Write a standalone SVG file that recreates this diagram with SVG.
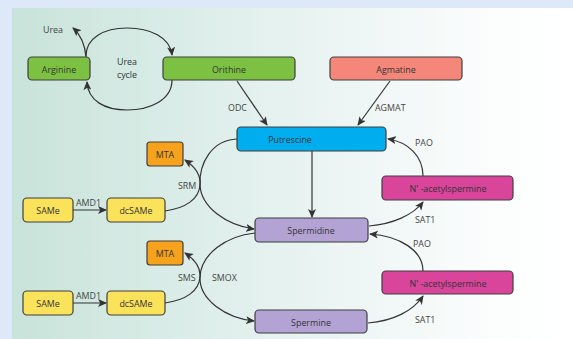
<svg xmlns="http://www.w3.org/2000/svg" width="573" height="339" viewBox="0 0 573 339">
<defs>
<linearGradient id="bg" x1="0" y1="0" x2="1" y2="0">
<stop offset="0" stop-color="#c8e3da"/>
<stop offset="0.45" stop-color="#e4f1ee"/>
<stop offset="0.85" stop-color="#fbfdfd"/>
<stop offset="1" stop-color="#ffffff"/>
</linearGradient>
<marker id="ah" viewBox="0 0 9 8" refX="8" refY="4" markerWidth="9" markerHeight="8" markerUnits="userSpaceOnUse" orient="auto">
<path d="M0,0 L9,4 L0,8 L2.2,4 z" fill="#333"/>
</marker>
<style>
.box{stroke:#3f3f3f;stroke-width:1.2}
.t{font-family:"Open Sans","Noto Sans",sans-serif;font-size:8.9px;fill:#333;text-anchor:middle;dominant-baseline:central}
.l{font-family:"Open Sans","Noto Sans",sans-serif;font-size:8.9px;fill:#444;dominant-baseline:central}
.c{fill:none;stroke:#333;stroke-width:1.2;marker-end:url(#ah)}
</style>
</defs>
<rect x="0" y="0" width="573" height="339" fill="#dde9f8"/>
<rect x="12" y="8" width="561" height="331" fill="url(#bg)"/>

<g id="connectors">
<path class="c" d="M86,56 C86,38 104,28 127,28 C150,28 170,37 172,55"/>
<path class="c" d="M172,80 C172,100 150,110 127,110 C105,110 88,101 87,82"/>
<path class="c" d="M86,57 C85,45 81,35 73,28"/>
<path class="c" d="M237,81 L267,125"/>
<path class="c" d="M390,81 L358,125"/>
<path class="c" d="M312,151 L312,217"/>
<path class="c" d="M237,139 C212,140 199,163 200,185 C201,207 226,225 254,229"/>
<path class="c" d="M165,211 C186,208 199,199 200,185 C201,175 194,166 185,160"/>
<path class="c" d="M73,210 L106,210"/>
<path class="c" d="M255,233 C226,236 201,254 200,277 C199,300 226,318 254,321"/>
<path class="c" d="M165,303 C186,300 199,291 200,277 C201,267 194,259 185,253"/>
<path class="c" d="M73,303 L106,303"/>
<path class="c" d="M423,176 C423,156 408,142 388,139"/>
<path class="c" d="M369,226 C393,224 413,215 423,202"/>
<path class="c" d="M423,271 C423,250 399,236 370,234"/>
<path class="c" d="M368,323 C393,321 413,311 423,296"/>
</g>

<g id="labels">
<text class="l" x="43" y="29">Urea</text>
<text class="t" x="127" y="61">Urea</text>
<text class="t" x="127" y="74">cycle</text>
<text class="l" x="228" y="107">ODC</text>
<text class="l" x="375" y="107">AGMAT</text>
<text class="l" x="415" y="142">PAO</text>
<text class="l" x="178" y="185">SRM</text>
<text class="l" x="76" y="202">AMD1</text>
<text class="l" x="415" y="219">SAT1</text>
<text class="l" x="413" y="243">PAO</text>
<text class="l" x="178" y="277">SMS</text>
<text class="l" x="212" y="277">SMOX</text>
<text class="l" x="76" y="295">AMD1</text>
<text class="l" x="415" y="319">SAT1</text>
</g>

<g id="arginine"><rect class="box" x="28" y="57" width="62" height="23" rx="4" fill="#7cc141"/><text class="t" x="59" y="69">Arginine</text></g>
<g id="orithine"><rect class="box" x="163" y="57" width="132" height="23" rx="4" fill="#7cc141"/><text class="t" x="229" y="69">Orithine</text></g>
<g id="agmatine"><rect class="box" x="330" y="57" width="132" height="23" rx="4" fill="#f4877a"/><text class="t" x="396" y="69">Agmatine</text></g>
<g id="putrescine"><rect class="box" x="237" y="127" width="149" height="24" rx="4" fill="#00adee"/><text class="t" x="290" y="139">Putrescine</text></g>
<g id="mta1"><rect class="box" x="147" y="142" width="36" height="24" rx="3" fill="#f7a21c"/><text class="t" x="165" y="154">MTA</text></g>
<g id="same1"><rect class="box" x="23" y="198" width="50" height="24" rx="4" fill="#fbe25b"/><text class="t" x="48" y="210">SAMe</text></g>
<g id="dcsame1"><rect class="box" x="107" y="198" width="58" height="24" rx="4" fill="#fbe25b"/><text class="t" x="136" y="210">dcSAMe</text></g>
<g id="nacetyl1"><rect class="box" x="382" y="176" width="131" height="24" rx="4" fill="#d8459b"/><text class="t" x="448" y="188">N' -acetylspermine</text></g>
<g id="spermidine"><rect class="box" x="255" y="218" width="113" height="24" rx="4" fill="#b3a3d4"/><text class="t" x="311" y="230">Spermidine</text></g>
<g id="mta2"><rect class="box" x="147" y="241" width="36" height="24" rx="3" fill="#f7a21c"/><text class="t" x="165" y="253">MTA</text></g>
<g id="nacetyl2"><rect class="box" x="382" y="271" width="131" height="23" rx="4" fill="#d8459b"/><text class="t" x="448" y="283">N' -acetylspermine</text></g>
<g id="same2"><rect class="box" x="23" y="291" width="50" height="24" rx="4" fill="#fbe25b"/><text class="t" x="48" y="303">SAMe</text></g>
<g id="dcsame2"><rect class="box" x="107" y="291" width="58" height="24" rx="4" fill="#fbe25b"/><text class="t" x="136" y="303">dcSAMe</text></g>
<g id="spermine"><rect class="box" x="255" y="310" width="112" height="23" rx="4" fill="#b3a3d4"/><text class="t" x="311" y="322">Spermine</text></g>
</svg>
